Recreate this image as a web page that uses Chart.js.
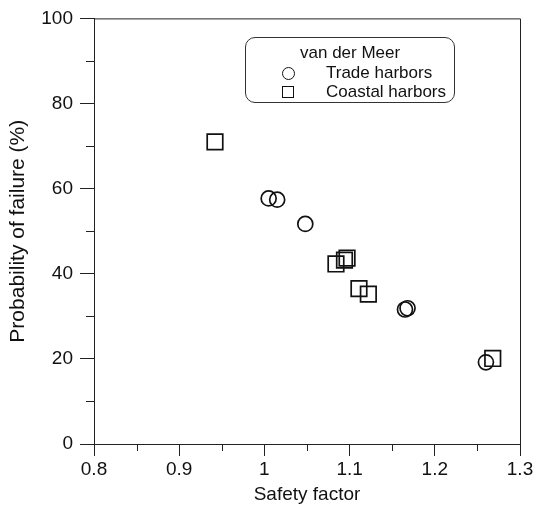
<!DOCTYPE html>
<html>
<head>
<meta charset="utf-8">
<script src="https://cdn.jsdelivr.net/npm/chart.js@4"></script>
<style>
  html, body { margin: 0; padding: 0; background: #fff; }
  #wrap { position: relative; width: 536px; height: 509px; }
  #legend {
    position: absolute; left: 245px; top: 37px; width: 208px; height: 64px;
    border: 1px solid #333; border-radius: 10px;
    font-family: "Liberation Sans", Arial, sans-serif; font-size: 17px; color: #111;
  }
  #legend .title { position: absolute; left: 54px; top: 5px; white-space: nowrap; }
  #legend .row { position: absolute; left: 0; width: 100%; height: 20px; line-height: 20px; }
  #legend .mark { position: absolute; left: 36px; top: 4px; width: 12px; height: 12px; border: 1.4px solid #111; box-sizing: border-box; }
  #legend .circ { border-radius: 50%; width: 13px; height: 13px; }
  #legend .lab { position: absolute; left: 80px; white-space: nowrap; }
</style>
</head>
<body>
<div id="wrap">
  <canvas id="chart" width="536" height="509"></canvas>
  <div id="legend">
    <div class="title">van der Meer</div>
    <div class="row" style="top:25px"><span class="mark circ"></span><span class="lab">Trade harbors</span></div>
    <div class="row" style="top:44px"><span class="mark"></span><span class="lab">Coastal harbors</span></div>
  </div>
</div>
<script>
// ==============================
// Datos
// ==============================
const tradeX = [1.005, 1.015, 1.048, 1.165, 1.168, 1.260];
const tradeY = [57.7, 57.4, 51.7, 31.6, 31.9, 19.2];

const coastalX = [0.942, 1.084, 1.094, 1.097, 1.111, 1.122, 1.268];
const coastalY = [71.0, 42.3, 43.2, 43.7, 36.5, 35.2, 20.1];

const xTicks = [0.8, 0.9, 1.0, 1.1, 1.2, 1.3];
const xMinor = [0.85, 0.95, 1.05, 1.15, 1.25];
const yTicks = [0, 20, 40, 60, 80, 100];
const yMinor = [10, 30, 50, 70, 90];

const FONT = '"Liberation Sans", Arial, sans-serif';
const INK = '#222';

const toPoints = (xs, ys) => xs.map((x, i) => ({ x: x, y: ys[i] }));

// marco superior/derecho + ticks menores
const frameAndMinor = {
    id: 'frameAndMinor',
    afterDraw(chart) {
        const { ctx, chartArea: a, scales } = chart;
        ctx.save();
        ctx.strokeStyle = INK;
        ctx.lineWidth = 1;
        ctx.beginPath();
        ctx.moveTo(a.left, a.top + 0.5);
        ctx.lineTo(a.right + 0.5, a.top + 0.5);
        ctx.lineTo(a.right + 0.5, a.bottom);
        ctx.stroke();

        ctx.beginPath();
        xMinor.forEach(v => {
            const px = Math.round(scales.x.getPixelForValue(v)) + 0.5;
            ctx.moveTo(px, a.bottom);
            ctx.lineTo(px, a.bottom + 7);
        });
        yMinor.forEach(v => {
            const py = Math.round(scales.y.getPixelForValue(v)) + 0.5;
            ctx.moveTo(a.left, py);
            ctx.lineTo(a.left - 8, py);
        });
        ctx.stroke();
        ctx.restore();
    }
};

new Chart(document.getElementById('chart'), {
    type: 'scatter',
    data: {
        datasets: [{
            label: 'Trade harbors',
            data: toPoints(tradeX, tradeY),
            pointStyle: 'circle',
            pointRadius: 7.5,
            pointHoverRadius: 7.5,
            borderColor: '#111',
            borderWidth: 1.7,
            backgroundColor: 'rgba(0,0,0,0)'
        }, {
            label: 'Coastal harbors',
            data: toPoints(coastalX, coastalY),
            pointStyle: 'rect',
            pointRadius: 11,
            pointHoverRadius: 11,
            borderColor: '#111',
            borderWidth: 1.7,
            backgroundColor: 'rgba(0,0,0,0)'
        }]
    },
    options: {
        responsive: false,
        animation: false,
        layout: { padding: { left: 0, top: 17, right: 16, bottom: 0 } },
        plugins: { legend: { display: false }, tooltip: { enabled: false } },
        scales: {
            x: {
                type: 'linear',
                min: 0.8,
                max: 1.3,
                afterBuildTicks: s => { s.ticks = xTicks.map(v => ({ value: v })); },
                afterFit: s => { s.height = 65; },
                ticks: {
                    color: '#111',
                    font: { family: FONT, size: 19 },
                    padding: 2,
                    maxRotation: 0,
                    callback: v => String(Math.round(v * 10) / 10)
                },
                grid: { drawOnChartArea: false, drawTicks: true, tickLength: 12, tickColor: INK },
                border: { display: true, color: INK, width: 1 },
                title: { display: true, text: 'Safety factor', color: '#111', font: { family: FONT, size: 19 }, padding: { top: 0, bottom: 3 } }
            },
            y: {
                type: 'linear',
                min: 0,
                max: 100,
                afterBuildTicks: s => { s.ticks = yTicks.map(v => ({ value: v })); },
                afterFit: s => { s.width = 94; },
                ticks: {
                    color: '#111',
                    font: { family: FONT, size: 19 },
                    padding: 7
                },
                grid: { drawOnChartArea: false, drawTicks: true, tickLength: 14, tickColor: INK },
                border: { display: true, color: INK, width: 1 },
                title: { display: true, text: 'Probability of failure (%)', color: '#111', font: { family: FONT, size: 21 }, padding: { top: 6, bottom: 0 } }
            }
        }
    },
    plugins: [frameAndMinor]
});
</script>
</body>
</html>
